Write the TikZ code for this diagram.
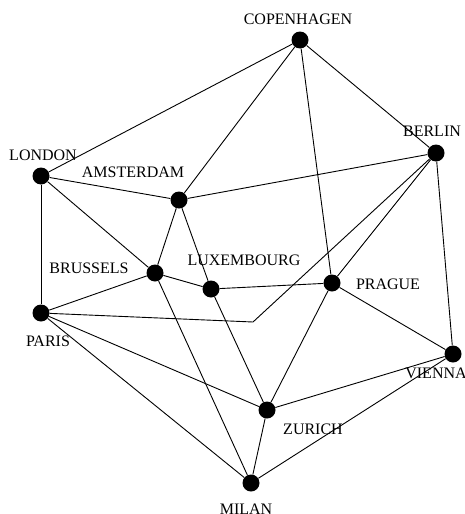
\documentclass[tikz,border=0pt]{standalone}
\usepackage{fontspec}
\setmainfont{Liberation Serif}

\begin{document}
\begin{tikzpicture}[x=1pt, y=-1pt,
    city/.style={circle, fill=black, inner sep=0pt, minimum size=17pt},
    cityname/.style={font=\fontsize{16}{18}\selectfont, inner sep=0pt},
    road/.style={line width=0.9pt}]

    % Frame
    \useasboundingbox (0,0) rectangle (465,514);

    %%%% Cities
    \node[city] (copenhagen) at (300,40) {};
    \node[city] (berlin) at (436,153) {};
    \node[city] (london) at (41,176) {};
    \node[city] (amsterdam) at (179,200) {};
    \node[city] (brussels) at (155,273) {};
    \node[city] (luxembourg) at (211,289) {};
    \node[city] (prague) at (332,283) {};
    \node[city] (paris) at (41,313) {};
    \node[city] (vienna) at (453,354) {};
    \node[city] (zurich) at (267,410) {};
    \node[city] (milan) at (251,483) {};

    % Bend in the Paris--Berlin line
    \coordinate (bend) at (253,322);

    %%%% Names
    \node[cityname] (lcopenhagen) at (298,19) {COPENHAGEN};
    \node[cityname] (lberlin) at (432,131) {BERLIN};
    \node[cityname] (llondon) at (43,155) {LONDON};
    \node[cityname] (lamsterdam) at (133,172) {AMSTERDAM};
    \node[cityname] (lbrussels) at (89,268) {BRUSSELS};
    \node[cityname] (lluxembourg) at (244,260) {LUXEMBOURG};
    \node[cityname] (lprague) at (388,284) {PRAGUE};
    \node[cityname] (lparis) at (48,341) {PARIS};
    \node[cityname] (lvienna) at (436,373) {VIENNA};
    \node[cityname] (lzurich) at (313,429) {ZURICH};
    \node[cityname] (lmilan) at (246,509) {MILAN};

    %%%% Links
    \draw[road] (copenhagen) -- (london);
    \draw[road] (copenhagen) -- (amsterdam);
    \draw[road] (copenhagen) -- (prague);
    \draw[road] (copenhagen) -- (berlin);
    \draw[road] (berlin) -- (amsterdam);
    \draw[road] (berlin) -- (prague);
    \draw[road] (berlin) -- (vienna);
    \draw[road] (berlin) -- (bend) -- (paris);
    \draw[road] (london) -- (amsterdam);
    \draw[road] (london) -- (brussels);
    \draw[road] (london) -- (paris);
    \draw[road] (amsterdam) -- (brussels);
    \draw[road] (amsterdam) -- (luxembourg);
    \draw[road] (brussels) -- (luxembourg);
    \draw[road] (brussels) -- (paris);
    \draw[road] (brussels) -- (milan);
    \draw[road] (luxembourg) -- (prague);
    \draw[road] (luxembourg) -- (zurich);
    \draw[road] (prague) -- (vienna);
    \draw[road] (prague) -- (zurich);
    \draw[road] (paris) -- (zurich);
    \draw[road] (paris) -- (milan);
    \draw[road] (zurich) -- (vienna);
    \draw[road] (zurich) -- (milan);
    \draw[road] (milan) -- (vienna);

\end{tikzpicture}
\end{document}
